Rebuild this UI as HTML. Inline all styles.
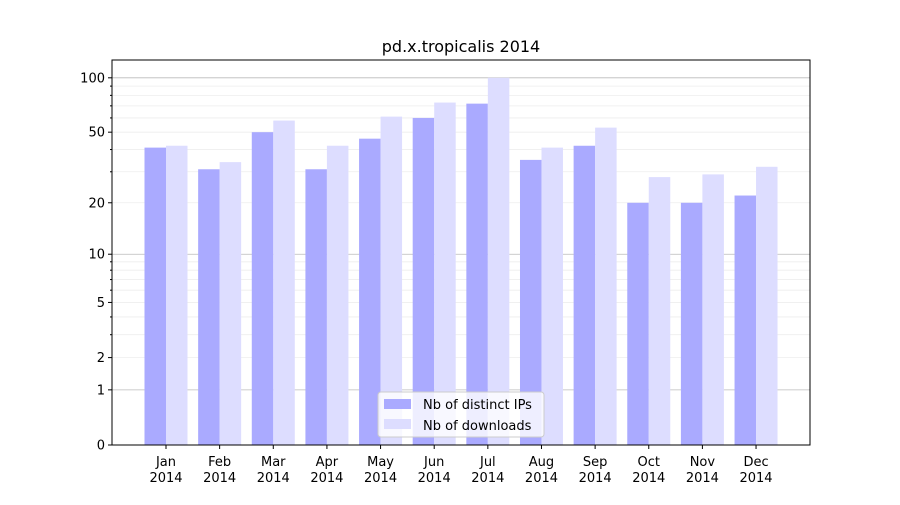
<!DOCTYPE html>
<html><head><meta charset="utf-8"><style>body{margin:0;background:#fff}svg{font-family:"DejaVu Sans","Liberation Sans",sans-serif}</style></head>
<body>
<svg id="c" width="900" height="500"></svg>
<script>
const months=["Jan","Feb","Mar","Apr","May","Jun","Jul","Aug","Sep","Oct","Nov","Dec"];
const ips=[41,31,50,31,46,60,72,35,42,20,20,22];
const downloads=[42,34,58,42,61,73,100,41,53,28,29,32];
const yTicks=[0,1,2,5,10,20,50,100];
const svg=document.getElementById('c');
const NS='http://www.w3.org/2000/svg';
const L=112,R=810,T=60,B=445;
function y(v){return B-183.2*Math.log10(1+v);}
function x(i){return 166+i*53.64;}
function mk(t,a,p){const e=document.createElementNS(NS,t);for(const k in a)e.setAttribute(k,a[k]);(p||svg).appendChild(e);return e;}
// grid
const g=mk('g',{});


[1,10,100].forEach(v=>mk('line',{x1:L,x2:R,y1:y(v),y2:y(v),stroke:'#bbb','stroke-width':0.8},g));
[2,3,4,5,6,7,8,9,20,30,40,50,60,70,80,90].forEach(v=>mk('line',{x1:L,x2:R,y1:y(v),y2:y(v),stroke:'#eee','stroke-width':0.8},g));
// bars
months.forEach((m,i)=>{
 const b1=mk('rect',{x:x(i)-21.5,y:y(ips[i]),width:21.5,height:B-y(ips[i]),fill:'#aaaaff'});
 
 
 const b2=mk('rect',{x:x(i),y:y(downloads[i]),width:21.5,height:B-y(downloads[i]),fill:'#ddddff'});
 
 
 mk('line',{x1:x(i),x2:x(i),y1:B,y2:B+4,stroke:'#000'});
 const t=mk('text',{x:x(i),y:466,'font-size':13,'text-anchor':'middle'});
 
 
 t.innerHTML='<tspan x="'+x(i)+'">'+m+'</tspan><tspan x="'+x(i)+'" dy="16">2014</tspan>';
});
// y ticks
yTicks.forEach(v=>{
 mk('line',{x1:L-4,x2:L,y1:y(v),y2:y(v),stroke:'#000'});
 const t=mk('text',{x:L-7,y:y(v)+4.5,'font-size':13,'text-anchor':'end'});
 
 
 t.textContent=v;
});
[3,4,6,7,8,9,30,40,60,70,80,90].forEach(v=>mk('line',{x1:L-2,x2:L,y1:y(v),y2:y(v),stroke:'#000'}));
// frame
const f=mk('rect',{x:L,y:T,width:R-L,height:B-T,fill:'none',stroke:'#000','stroke-width':1});


const tt=mk('text',{x:461,y:52,'font-size':16,'text-anchor':'middle'});


tt.textContent='pd.x.tropicalis 2014';
// legend
const lg=mk('g',{});


mk('rect',{x:378,y:392,width:166,height:45,rx:3,fill:'#fff','fill-opacity':0.8,stroke:'#ccc'},lg);
mk('rect',{x:384,y:399,width:27,height:10,fill:'#aaaaff'},lg);
mk('rect',{x:384,y:419,width:27,height:10,fill:'#ddddff'},lg);
const l1=mk('text',{x:423,y:409,'font-size':13},lg);l1.textContent='Nb of distinct IPs';


const l2=mk('text',{x:423,y:430,'font-size':13},lg);l2.textContent='Nb of downloads';


</script>
</body></html>
